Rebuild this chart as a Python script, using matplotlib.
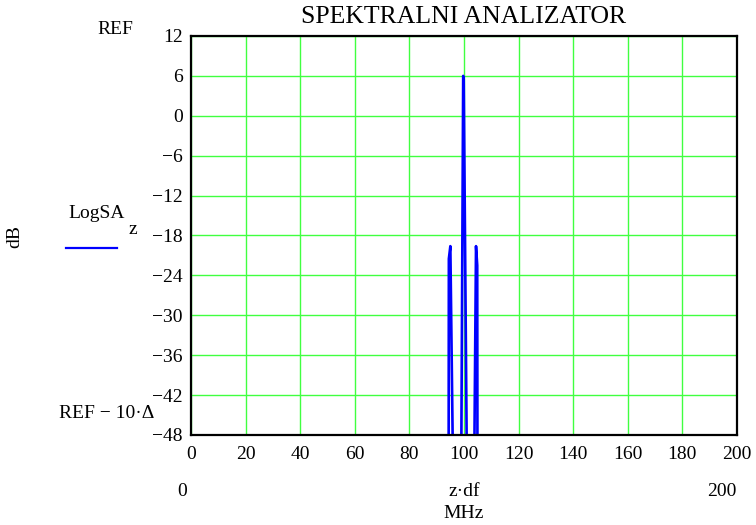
import matplotlib
matplotlib.use("Agg")
import matplotlib.pyplot as plt
from matplotlib.lines import Line2D

# spectrum samples (values below -48 dB are off the plot)
freq_mhz = [0, 94.35, 94.45, 95.0, 95.95, 98.9, 99.7, 99.9, 101.1, 103.6, 104.4, 104.85, 104.95, 200]
logsa_db = [-100, -60, -21.5, -19.6, -52, -60, 6.0, 5.5, -55, -60, -19.6, -22.5, -60, -100]

x_ticks = list(range(0, 201, 20))
y_ticks = list(range(-48, 13, 6))

W, H = 756, 525
plt.rcParams['font.family'] = ['Liberation Serif', 'DejaVu Serif']
fs = 14

fig = plt.figure(figsize=(W / 100, H / 100), dpi=100)
ax = fig.add_axes([191 / W, 1 - 435 / H, (737 - 191) / W, (435 - 36) / H])

ax.plot(freq_mhz, logsa_db, color='#0000ff', lw=1.9, zorder=3)

ax.set_xlim(0, 200)
ax.set_ylim(-48, 12)
ax.set_xticks(x_ticks)
ax.set_yticks(y_ticks)
ax.grid(True, color='#40ff40', lw=1.0)
ax.tick_params(length=0, labelsize=fs)
ax.tick_params(axis='x', pad=8)
ax.tick_params(axis='y', pad=6)
for s in ax.spines.values():
    s.set_linewidth(1.6)
    s.set_zorder(4)


def px(x, y, txt, **kw):
    fig.text(x / W, 1 - y / H, txt, ha=kw.pop('ha', 'center'), va=kw.pop('va', 'center'),
             fontsize=kw.pop('fontsize', fs), **kw)


px(464, 17, 'SPEKTRALNI ANALIZATOR', fontsize=18.5)
px(115, 30, 'REF')
px(97, 214, 'LogSA')
px(133, 229, 'z')
px(15, 236, 'dB', rotation=90)
px(107, 413, 'REF \u2212 10\u00b7\u0394')
px(182, 492, '0')
px(464, 492, 'z\u00b7df')
px(722, 492, '200')
px(464, 514, 'MHz')

fig.add_artist(Line2D([66 / W, 117 / W], [1 - 248 / H, 1 - 248 / H], color='#0000ff', lw=1.6))

fig.savefig('out.png', dpi=100)
